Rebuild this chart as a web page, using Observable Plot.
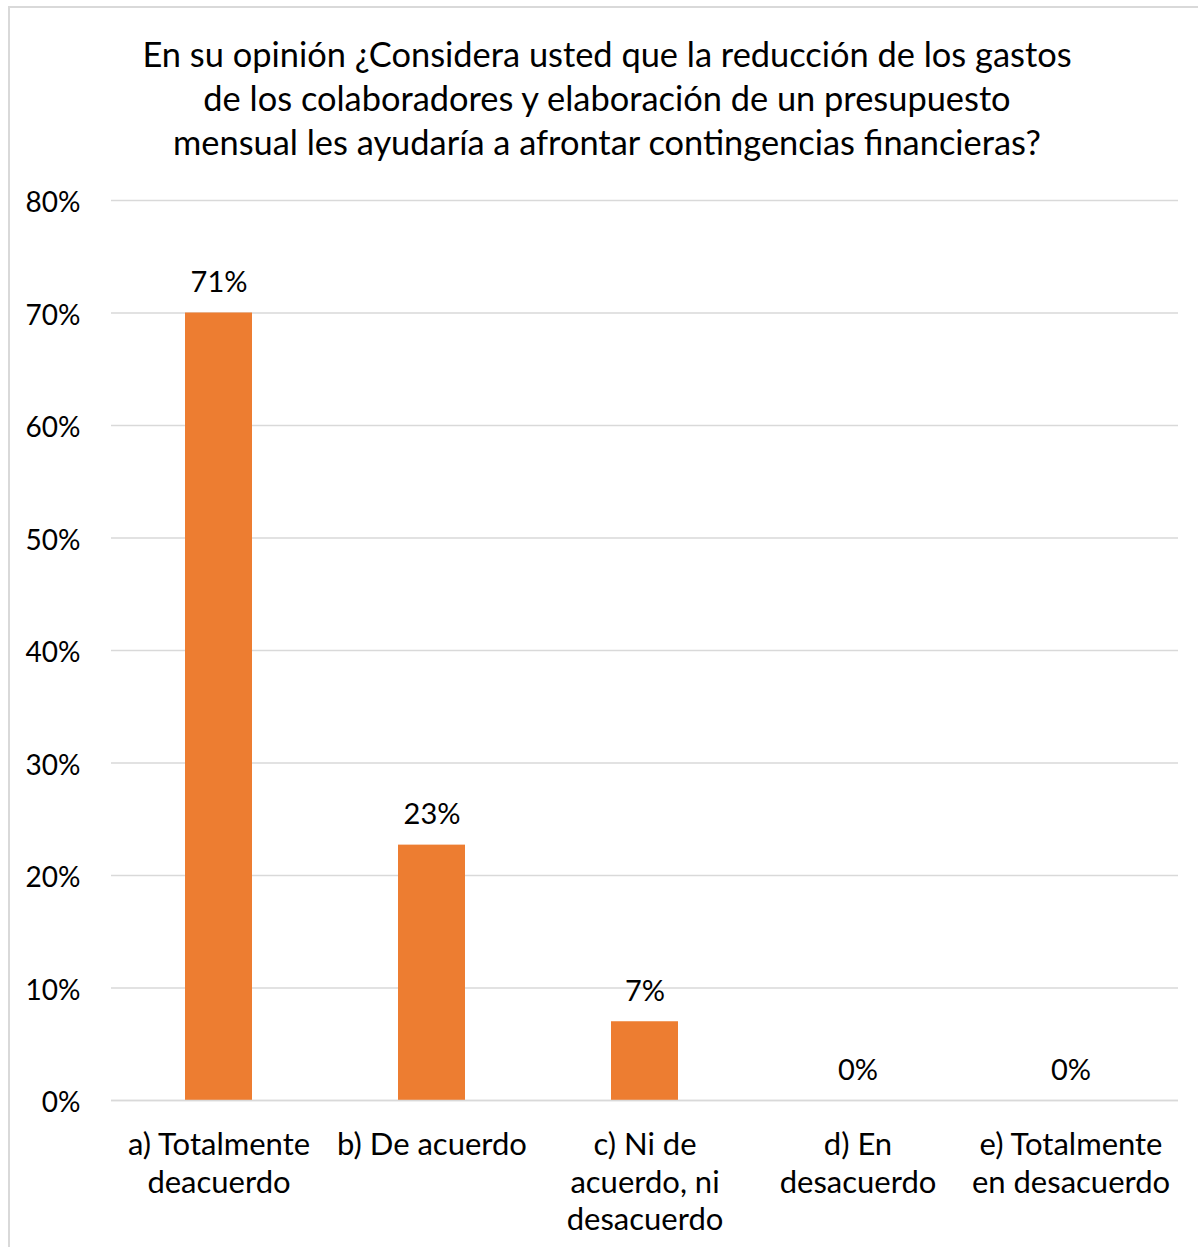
<!DOCTYPE html>
<html>
<head>
<meta charset="utf-8">
<script src="https://cdn.jsdelivr.net/npm/d3@7"></script>
<script src="https://cdn.jsdelivr.net/npm/@observablehq/plot@0.6"></script>
<style>
  body { margin: 0; background: #fff; }
  #wrap { position: relative; width: 1198px; height: 1247px; overflow: hidden; font-family: Lato, "Open Sans", sans-serif; }
  #frame { position: absolute; left: 8px; top: 6px; width: 1200px; height: 1260px; border: 2px solid #d9d9d9; box-sizing: border-box; }
  #title { position: absolute; left: 0; top: 32px; width: 1214px; text-align: center; font-size: 34.4px; line-height: 44px; color: #000; }
  #chart { position: absolute; left: 0; top: 180px; }
</style>
</head>
<body>
<div id="wrap">
  <div id="frame"></div>
  <div id="title">En su opinión ¿Considera usted que la reducción de los gastos<br>de los colaboradores y elaboración de un presupuesto<br>mensual les ayudaría a afrontar contingencias financieras?</div>
  <div id="chart"></div>
</div>
<script>
const categories = [
  "a) Totalmente\ndeacuerdo",
  "b) De acuerdo",
  "c) Ni de\nacuerdo, ni\ndesacuerdo",
  "d) En\ndesacuerdo",
  "e) Totalmente\nen desacuerdo"
];
const values = [0.70, 0.227, 0.07, 0, 0];
const valueLabels = ["71%", "23%", "7%", "0%", "0%"];
const yTicks = [0, 0.1, 0.2, 0.3, 0.4, 0.5, 0.6, 0.7, 0.8];

const data = categories.map((c, i) => ({category: c, value: values[i], label: valueLabels[i]}));

const chart = Plot.plot({
  width: 1198,
  height: 1067,
  marginTop: 20,
  marginBottom: 147,
  marginLeft: 111,
  marginRight: 20,
  style: {fontFamily: "Lato, 'Open Sans', sans-serif", fontSize: "30px", color: "#000", background: "transparent"},
  x: {domain: categories, paddingInner: 0.686, paddingOuter: 0.343, align: 0.5},
  y: {domain: [0, 0.8]},
  marks: [
    Plot.gridY(yTicks, {stroke: "#d9d9d9", strokeOpacity: 1, strokeWidth: 1.5}),
    Plot.axisY(yTicks, {tickSize: 0, tickPadding: 31, dy: 3, tickFormat: d => Math.round(d * 100) + "%", fontSize: 28, label: null}),
    Plot.barY(data, {x: "category", y: "value", fill: "#ED7D31"}),
    Plot.ruleY([0], {stroke: "#d9d9d9", strokeWidth: 1.5}),
    Plot.axisX({tickSize: 0, tickPadding: 28, fontSize: 31, lineHeight: 1.21, label: null}),
    Plot.text(data, {x: "category", y: "value", text: "label", dy: -30, fontSize: 29, fill: "#000"})
  ]
});
document.getElementById("chart").appendChild(chart);
</script>
</body>
</html>
